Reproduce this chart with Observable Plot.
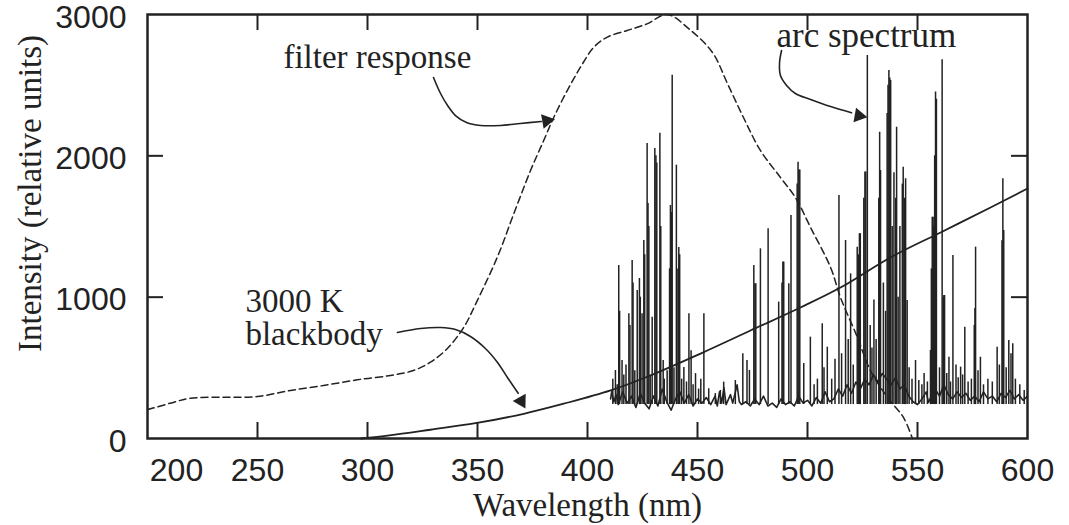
<!DOCTYPE html>
<html><head><meta charset="utf-8">
<script src="https://cdn.jsdelivr.net/npm/d3@7"></script>
<script src="https://cdn.jsdelivr.net/npm/@observablehq/plot@0.6"></script>
<style>html,body{margin:0;padding:0;background:#fff;}</style>
</head><body><div id="chart"></div>
<script>
// Filter response (dashed): [wavelength nm, intensity]
const filterResponse = [[200,205],[201.4,210],[212,257],[219.5,285],[234.7,292],[249.9,297],[265,340],[280,375],[295.3,415],[310.5,446],[320.9,481],[328.6,540],[336.2,635],[343.8,788],[349.9,976],[359,1283],[366.5,1590],[374.1,1896],[380.1,2109],[384.7,2273],[390.8,2462],[396.8,2627],[402.9,2769],[409,2840],[418,2887],[427.1,2934],[436.2,3000],[446,2900],[456.8,2731],[463.6,2512],[470.9,2271],[478.6,2038],[487.7,1847],[494.5,1705],[501.4,1493],[510.5,1210],[515,998],[522.7,715],[528.6,481],[536.4,290],[543.6,149],[547.7,0]];
// 3000 K blackbody (solid)
const blackbody = [[297,0],[310,22],[328.6,62],[349.1,108],[371,175],[389.2,246],[410.5,340],[428.6,446],[451.4,601],[474.1,764],[496.8,927],[515,1068],[537.7,1281],[560.5,1458],[583.2,1634],[600,1769]];
// Arc spectrum: continuum floor and emission lines [nm, peak]
const arcBaseline = [[410.5,280],[411,330],[412,260],[413,310],[414,240],[416,330],[418,250],[420,300],[422,220],[424,320],[426,250],[428,210],[430,300],[432,230],[434,350],[436,260],[438,200],[440,280],[442,330],[444,250],[446,310],[448,230],[450,280],[452,250],[454,290],[456,240],[458,300],[459,230],[460,330],[461,250],[462,360],[463,240],[465,310],[466,250],[468,380],[469,260],[470,240],[472,260],[474,230],[476,280],[478,240],[480,300],[482,230],[484,250],[486,220],[488,280],[490,240],[492,260],[494,230],[496,300],[498,250],[500,270],[502,230],[504,290],[506,250],[508,330],[510,260],[512,280],[514,350],[516,300],[518,380],[520,320],[522,400],[524,350],[526,420],[528,380],[530,450],[532,400],[534,460],[536,420],[538,380],[540,430],[542,350],[544,380],[546,300],[548,260],[550,240],[552,280],[554,330],[555,255],[556,290],[558,350],[560,300],[562,380],[564,310],[566,280],[568,330],[570,290],[572,320],[574,270],[576,300],[578,260],[580,330],[582,280],[584,300],[586,260],[588,320],[590,290],[592,340],[594,280],[596,310],[598,270],[600,300]];
const arcLines = [
[411.5,420],[412.7,481],[413.5,380],[414.2,1224],[414.6,900],[415.7,552],[416.5,450],[417.5,520],[418.8,883],[419.3,800],[420.3,1260],[420.7,1100],[421.5,480],[422.6,1047],[423.6,1132],[424,1000],[424.8,883],[425.6,1401],[426,1300],[427.1,2088],[427.5,1663],[427.9,1500],[428.5,450],[429.4,858],[430.6,2052],[431.1,2000],[431.5,1950],[432.9,2159],[433.3,1500],[434.4,552],[434.9,420],[436.2,480],[437.3,1200],[437.7,1649],[438.1,1600],[438.5,2571],[439.3,500],[440.4,1934],[441.1,1200],[441.5,1352],[441.9,1300],[442.8,420],[443.8,503],[445,400],[446.1,883],[447.1,621],[448,380],[449.1,459],[450.5,350],[451.5,420],[452.9,883],
[455.1,352],[458.1,318],[460.4,340],[461.9,399],[467.2,410],[470.6,600],[472.5,552],[473.6,481],[475.6,1224],[476.1,1095],[476.5,1095],[478.6,1342],[482.1,1484],[486.9,965],[488.4,1100],[488.8,1248],[489.2,1248],[491.5,1095],[492.5,1578],[495.3,1800],[495.7,1955],[496.1,1900],[496.5,1900],[498.3,531],[501.3,717],
[503,380],[504.5,420],[506.7,812],[507.5,500],[509,646],[511,420],[512.5,560],[514.3,1720],[515.5,600],[517.3,1401],[518.5,700],[519.6,1165],[520.8,520],[522.6,1354],[523.2,1300],[523.6,1449],[524,1449],[525.6,1700],[526.1,1885],[526.5,1885],[527.2,2710],[528.5,800],[529.3,640],[530.2,980],[531.2,700],[532.4,1700],[532.8,2167],[533.2,1896],[534.5,1100],[535.5,900],[536.2,2300],[536.6,2500],[537,2604],[537.4,2550],[537.8,2533],[538.5,1500],[539.3,1880],[540.1,1700],[540.5,2203],[541.2,1000],[542,1500],[543.1,1800],[543.5,1920],[544.2,1700],[544.6,1838],[545.3,977],[546.2,500],[547.5,420],[549.1,552],
[550.6,410],[552,380],[553,460],[554.5,400],[555.9,623],[556.3,1200],[556.7,1566],[557.1,1566],[557.4,1500],[557.8,2000],[558.2,2451],[558.6,2400],[560,500],[561.2,2680],[561.7,1000],[562,1012],[562.3,1012],[563.3,460],[564.3,575],[565,400],[566.1,1295],[567.5,520],[568.5,430],[569.6,505],[570.5,450],[571.5,788],[573,400],[574.5,420],[575.8,800],[576.1,920],[576.4,1354],[577.5,480],[578.6,575],[580,380],[582,420],[584,400],[586.2,646],[587.2,520],[588.4,1400],[588.8,1838],[589.2,1472],[590.3,500],[591.5,693],[592.5,600],[593.3,670],[594.5,420],[596.5,380],[598.5,340]];

// Axis ticks and labels
const xTicks = [250,300,350,400,450,500,550];
const xTickLabels = [250,300,350,400,450,500,550,600];
const xFirstLabel = [200];
const yTicks = [1000,2000];
const yTickLabels = [0,1000,2000,3000];

// Annotations (data units)
const labelFilter = [{text:"filter response", nm:261.8, v:2625}];
const labelBlackbody = [{text:"3000 K\nblackbody", nm:244.5, v:665}];
const labelArc = [{text:"arc spectrum", nm:485.9, v:2767}];
const filterArrow = [[330,2554],[333.2,2441],[336.4,2356],[340,2285],[345,2236],[351.4,2215],[360.5,2215],[369.5,2229],[379,2243]];
const blackbodyArrow = [[313.6,750],[324.1,778],[333.2,785],[340,771],[346.8,722],[353.6,637],[359.1,538],[363.6,432],[368.5,320]];
const arcArrow = [[488.2,2745],[487.3,2660],[487.7,2568],[490.5,2498],[494.5,2441],[501.4,2399],[510.5,2349],[520,2305]];
const arrowHeads = [
  {nm:381.4, v:2248, angle:80},
  {nm:369.9, v:265, angle:151},
  {nm:523.4, v:2284, angle:100}
];

const ink = "#222";
const serif = "Liberation Serif, Times New Roman, serif";
const sans = "Liberation Sans, Arial, Helvetica, sans-serif";

const chart = Plot.plot({
  width: 1069,
  height: 525,
  marginLeft: 147,
  marginRight: 42,
  marginTop: 14,
  marginBottom: 87,
  style: {background: "#fff", color: ink, fontFamily: sans, fontSize: "31px"},
  x: {domain: [200, 600], axis: null},
  y: {domain: [0, 3000], axis: null},
  marks: [
    // arc spectrum
    Plot.ruleX(arcLines, {x: d => d[0], y1: 240, y2: d => d[1], stroke: ink, strokeWidth: 1.5}),
    Plot.line(arcBaseline, {x: d => d[0], y: d => d[1], stroke: ink, strokeWidth: 1.6}),
    // filter response
    Plot.line(filterResponse, {x: d => d[0], y: d => d[1], stroke: ink, strokeWidth: 1.5, strokeDasharray: "7,4", curve: "catmull-rom"}),
    // blackbody
    Plot.line(blackbody, {x: d => d[0], y: d => d[1], stroke: ink, strokeWidth: 1.8, curve: "catmull-rom"}),
    // arrows
    Plot.line(filterArrow, {x: d => d[0], y: d => d[1], stroke: ink, strokeWidth: 1.6, curve: "catmull-rom"}),
    Plot.line(blackbodyArrow, {x: d => d[0], y: d => d[1], stroke: ink, strokeWidth: 1.6, curve: "catmull-rom"}),
    Plot.line(arcArrow, {x: d => d[0], y: d => d[1], stroke: ink, strokeWidth: 1.6, curve: "catmull-rom"}),
    Plot.dot(arrowHeads, {x: "nm", y: "v", symbol: "triangle", r: 5.5, fill: ink, stroke: null, rotate: "angle"}),
    // annotation labels
    Plot.text(labelFilter, {x: "nm", y: "v", text: "text", textAnchor: "start", lineAnchor: "bottom", fontFamily: serif, fontSize: 33, fill: ink}),
    Plot.text(labelBlackbody, {x: "nm", y: "v", text: "text", textAnchor: "start", lineAnchor: "bottom", fontFamily: serif, fontSize: 33, fill: ink}),
    Plot.text(labelArc, {x: "nm", y: "v", text: "text", textAnchor: "start", lineAnchor: "bottom", fontFamily: serif, fontSize: 35, fill: ink}),
    // frame and inward ticks
    Plot.frame({stroke: ink, strokeWidth: 2.5}),
    Plot.ruleX(xTicks, {x: d => d, insetTop: 408, stroke: ink, strokeWidth: 2}),
    Plot.ruleX(xTicks, {x: d => d, insetBottom: 408, stroke: ink, strokeWidth: 2}),
    Plot.ruleY(yTicks, {y: d => d, insetRight: 864, stroke: ink, strokeWidth: 2}),
    Plot.ruleY(yTicks, {y: d => d, insetLeft: 864, stroke: ink, strokeWidth: 2}),
    // tick labels
    Plot.text(xTickLabels, {x: d => d, text: d => String(d), frameAnchor: "bottom", textAnchor: "middle", dy: 32, lineAnchor: "middle", fontFamily: sans, fontSize: 32, fill: ink}),
    Plot.text(xFirstLabel, {x: d => d, text: d => String(d), frameAnchor: "bottom", textAnchor: "middle", dx: 29, dy: 32, lineAnchor: "middle", fontFamily: sans, fontSize: 32, fill: ink}),
    Plot.text(yTickLabels, {y: d => d, text: d => String(d), frameAnchor: "left", textAnchor: "end", dx: -21, dy: 3, lineAnchor: "middle", fontFamily: sans, fontSize: 32, fill: ink}),
    // axis titles
    Plot.text(["Wavelength (nm)"], {frameAnchor: "bottom", textAnchor: "middle", dy: 67, lineAnchor: "middle", fontFamily: serif, fontSize: 33, fill: ink}),
    Plot.text(["Intensity (relative units)"], {frameAnchor: "left", textAnchor: "middle", dx: -117, dy: -33, rotate: -90, lineAnchor: "middle", fontFamily: serif, fontSize: 33, fill: ink})
  ]
});
document.getElementById("chart").appendChild(chart);
</script>
</body></html>
